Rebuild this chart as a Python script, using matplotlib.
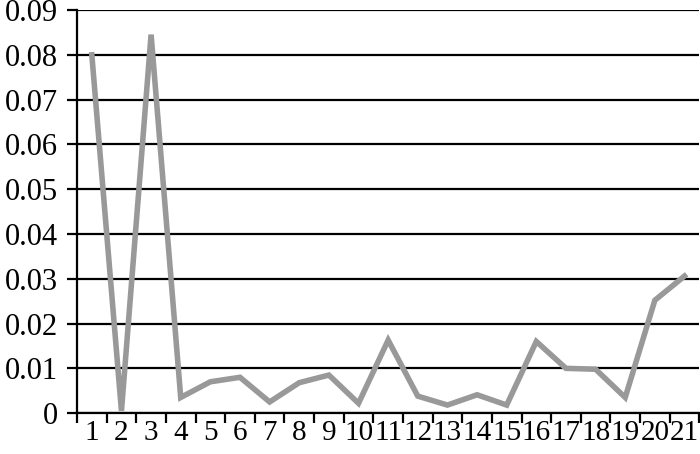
import numpy as np
import matplotlib
matplotlib.use('Agg')
import matplotlib.pyplot as plt

# categories and values
categorias = [str(i) for i in range(1, 22)]
valores = [0.080, 0.0005, 0.0845, 0.0035, 0.0070, 0.0080, 0.0025, 0.0068, 0.0085,
           0.0022, 0.0163, 0.0038, 0.0018, 0.0041, 0.0018, 0.0160, 0.0100, 0.0098,
           0.0035, 0.0252, 0.0306]
y_ticks = [0, 0.01, 0.02, 0.03, 0.04, 0.05, 0.06, 0.07, 0.08, 0.09]
y_labels = ['0', '0.01', '0.02', '0.03', '0.04', '0.05', '0.06', '0.07', '0.08', '0.09']

plt.rcParams['font.family'] = ['Liberation Serif', 'DejaVu Serif']

fig = plt.figure(figsize=(7, 4.54), dpi=100)
ax = fig.add_axes([0.110, 0.090, 0.889, 0.888])

x = np.arange(len(valores))
ax.plot(x, valores, color='#999999', linewidth=4.0, solid_joinstyle='miter', zorder=3)

ax.set_xlim(-0.5, len(valores) - 0.5)
ax.set_ylim(0, 0.09)

ax.set_yticks(y_ticks)
ax.set_yticklabels(y_labels, fontsize=22)
ax.yaxis.grid(True, color='black', linewidth=1.6)
ax.set_axisbelow(True)

ax.set_xticks(x)
ax.set_xticklabels(categorias, fontsize=21)
ax.set_xticks(np.arange(-0.5, len(valores)), minor=True)
ax.tick_params(axis='x', which='major', length=0, pad=5)
ax.tick_params(axis='x', which='minor', length=7, width=1.6, direction='out')
ax.tick_params(axis='y', length=7, width=1.6, direction='out', pad=7)

for s in ['top', 'right']:
    ax.spines[s].set_visible(False)
for s in ['left', 'bottom']:
    ax.spines[s].set_linewidth(1.6)

plt.savefig('out.png', dpi=100)
